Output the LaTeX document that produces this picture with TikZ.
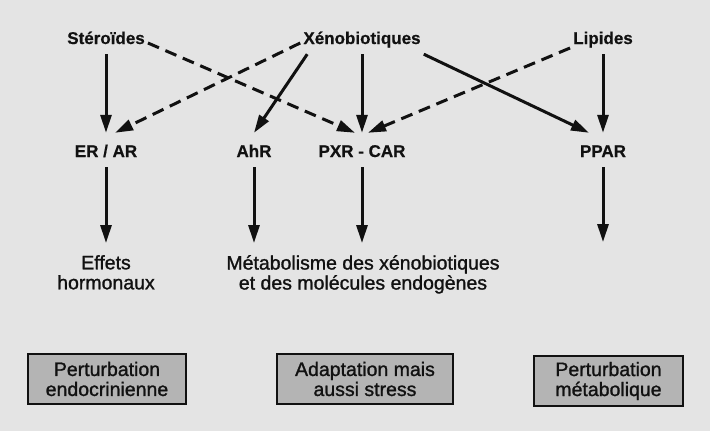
\documentclass[tikz,border=0pt]{standalone}
\usepackage{fontspec}
\setmainfont{Liberation Sans}
\newfontface\medfont{Liberation Sans}[FakeBold=1.2]
\newfontface\topfont{Liberation Sans Bold}[FakeBold=0.6]
\usetikzlibrary{arrows.meta}
\definecolor{bg}{HTML}{E4E4E4}
\definecolor{boxfill}{HTML}{B4B4B4}
\definecolor{ink}{HTML}{111111}
\begin{document}
\begin{tikzpicture}[x=1pt,y=-1pt,
  toplab/.style={font=\topfont\fontsize{17}{20}\selectfont, text=ink, text height=12pt, text depth=10pt, inner xsep=3pt, inner ysep=0pt, anchor=base},
  midlab/.style={font=\topfont\fontsize{17}{20}\selectfont, text=ink, text height=24pt, text depth=10pt, inner xsep=3pt, inner ysep=0pt, anchor=base},
  botlab/.style={font=\medfont\fontsize{19.5}{20}\selectfont, text=ink, align=center, anchor=north, inner xsep=2pt, inner ysep=12pt},
  outcome/.style={draw=ink, line width=2.6pt, fill=boxfill, font=\medfont\fontsize{19.5}{20}\selectfont, text=ink, align=center, inner sep=0pt, minimum height=50pt},
  arr/.style={-{Triangle[length=18pt,width=11pt]}, line width=3pt, draw=ink},
  darr/.style={arr, dash pattern=on 12pt off 7pt}]
\fill[bg] (0,0) rectangle (710,431);
\useasboundingbox (0,0) rectangle (710,431);
% sources
\node[toplab] (ster) at (106,44) {Stéroïdes};
\node[toplab] (xeno) at (362,44) {Xénobiotiques};
\node[toplab] (lip) at (603,44) {Lipides};
% receptors
\node[midlab] (erar) at (106,157) {ER / AR};
\node[midlab] (ahr) at (254,157) {AhR};
\node[midlab] (pxr) at (362,157) {PXR - CAR};
\node[midlab] (ppar) at (603,157) {PPAR};
% effects
\node[botlab] (effets) at (106,243) {Effets\\hormonaux};
\node[botlab] (metab) at (363,243) {Métabolisme des xénobiotiques\\et des molécules endogènes};
\coordinate (pend) at (603,242);
% outcomes
\node[outcome, minimum width=158pt] (out1) at (107,379) {Perturbation\\endocrinienne};
\node[outcome, minimum width=176pt] (out2) at (365,379) {Adaptation mais\\aussi stress};
\node[outcome, minimum width=149pt] (out3) at (608.5,381) {Perturbation\\métabolique};
% connectors
\draw[arr] (ster.south) -- (erar.north);
\draw[darr] (xeno.west) -- ([xshift=9pt]erar.north);
\draw[darr] (ster.east) -- ([xshift=-7pt]pxr.north);
\draw[arr] ([xshift=7pt]xeno.south west) -- (ahr.north);
\draw[arr] (xeno.south) -- (pxr.north);
\draw[arr] (xeno.south east) -- ([xshift=-14pt]ppar.north);
\draw[darr] ([yshift=-5pt]lip.west) -- ([xshift=6pt]pxr.north);
\draw[arr] (lip.south) -- (ppar.north);
\draw[arr] (erar.south) -- (effets.north);
\draw[arr] (ahr.south) -- (ahr.south |- metab.north);
\draw[arr] (pxr.south) -- (pxr.south |- metab.north);
\draw[arr] (ppar.south) -- (pend);
\end{tikzpicture}
\end{document}
